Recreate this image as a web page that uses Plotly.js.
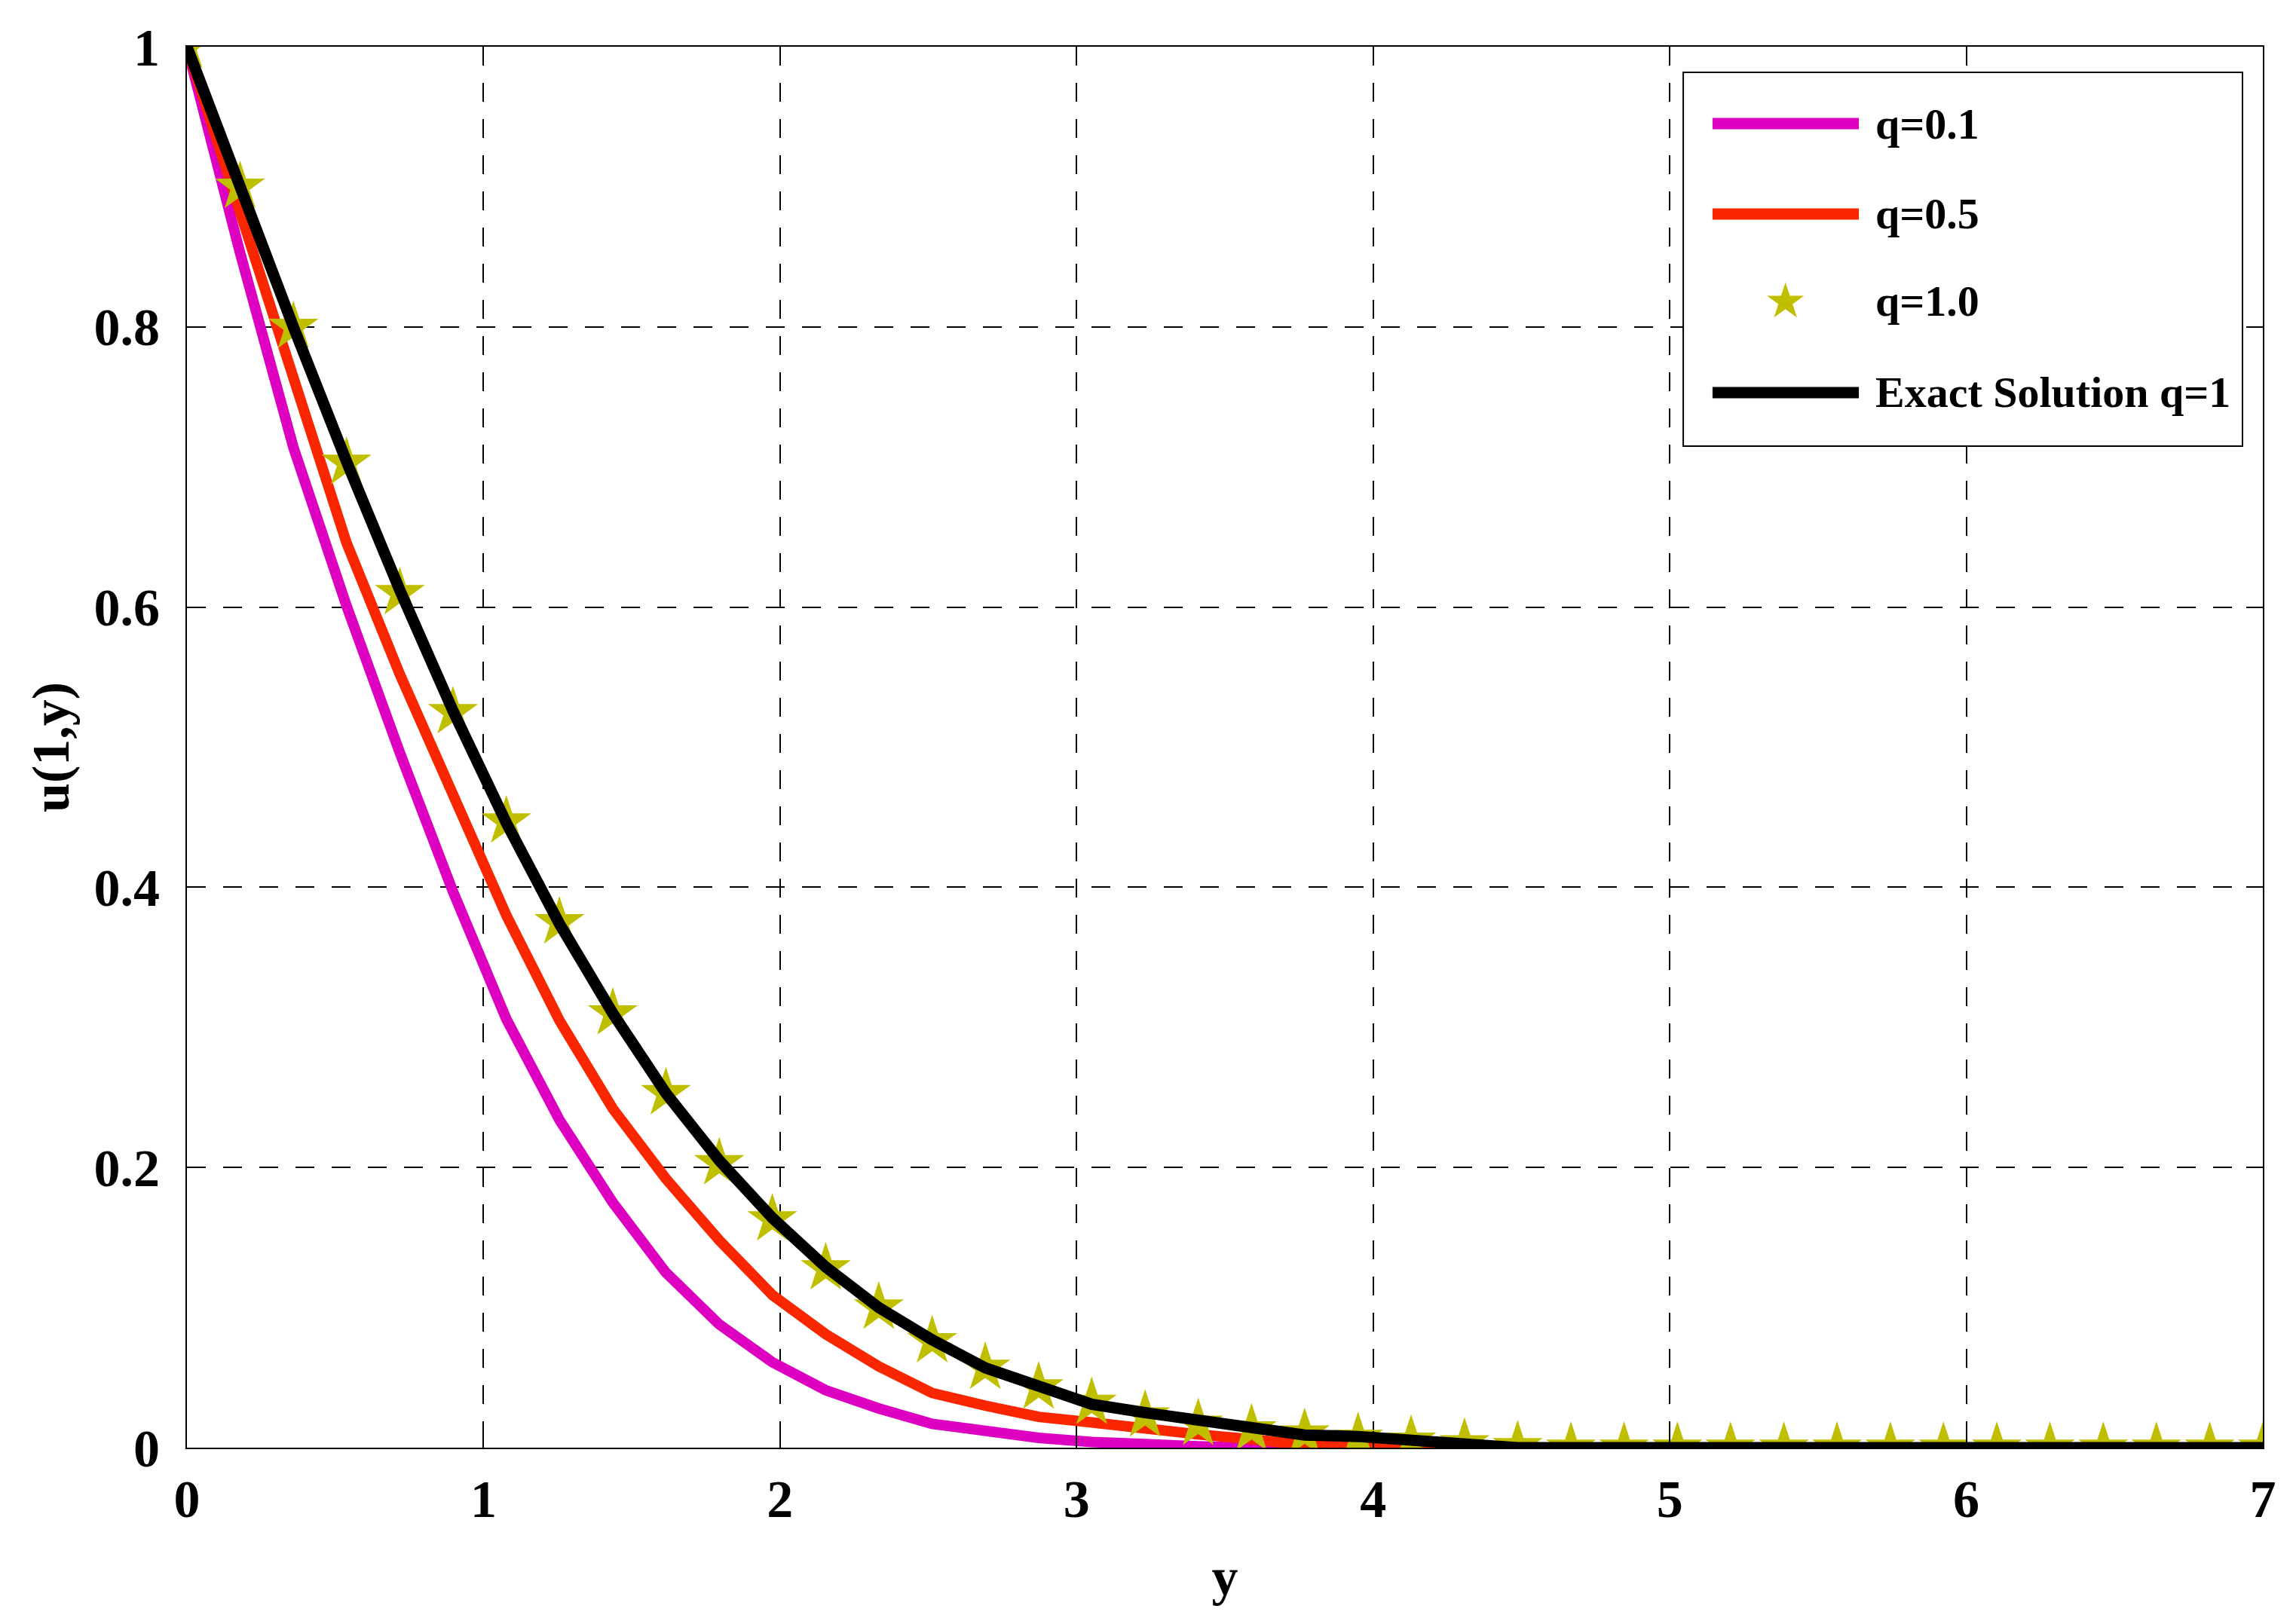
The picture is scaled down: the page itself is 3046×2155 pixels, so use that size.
<!DOCTYPE html>
<html>
<head>
<meta charset="utf-8">
<script src="https://cdn.plot.ly/plotly-3.0.1.min.js"></script>
<style>
  body { margin: 0; background: #fff; }
  #plot { width: 3046px; height: 2155px; }
</style>
</head>
<body>
<div id="plot"></div>
<script>
// sample positions (40 points on 0..7)
var yPos = [0, 0.179, 0.359, 0.538, 0.718, 0.897, 1.077, 1.256, 1.436, 1.615,
  1.795, 1.974, 2.154, 2.333, 2.513, 2.692, 2.872, 3.051, 3.231, 3.410,
  3.590, 3.769, 3.949, 4.128, 4.308, 4.487, 4.667, 4.846, 5.026, 5.205,
  5.385, 5.564, 5.744, 5.923, 6.103, 6.282, 6.462, 6.641, 6.821, 7.0];

var u_q01 = [1, 0.853, 0.714, 0.601, 0.496, 0.397, 0.306, 0.234, 0.175, 0.125,
  0.088, 0.061, 0.041, 0.028, 0.017, 0.012, 0.007, 0.004, 0.002, 0.001,
  0, 0, 0, 0, 0, 0, 0, 0, 0, 0,
  0, 0, 0, 0, 0, 0, 0, 0, 0, 0];

var u_q05 = [1, 0.884, 0.767, 0.646, 0.552, 0.464, 0.380, 0.305, 0.242, 0.192,
  0.148, 0.109, 0.081, 0.058, 0.039, 0.030, 0.022, 0.018, 0.013, 0.0095,
  0.006, 0.002, 0.001, 0, 0, 0, 0, 0, 0, 0,
  0, 0, 0, 0, 0, 0, 0, 0, 0, 0];

var u_q10 = [1, 0.900, 0.800, 0.703, 0.610, 0.525, 0.447, 0.375, 0.310, 0.253,
  0.203, 0.163, 0.128, 0.100, 0.076, 0.057, 0.043, 0.032, 0.023, 0.017,
  0.013, 0.010, 0.007, 0.005, 0.003, 0.001, 0, 0, 0, 0,
  0, 0, 0, 0, 0, 0, 0, 0, 0, 0];

var u_exact = [1, 0.899, 0.800, 0.704, 0.612, 0.526, 0.446, 0.374, 0.310, 0.253,
  0.205, 0.164, 0.129, 0.100, 0.077, 0.057, 0.043, 0.031, 0.025, 0.019,
  0.014, 0.009, 0.008, 0.005, 0.001, 0, 0, 0, 0, 0,
  0, 0, 0, 0, 0, 0, 0, 0, 0, 0];

var names = ['q=0.1', 'q=0.5', 'q=1.0', 'Exact Solution q=1'];
var colors = ['#DD00C0', '#FA2600', '#BFBF00', '#000000'];

var family = 'Liberation Serif, Times New Roman, serif';
var font = {family: family, size: 70, color: '#000', weight: 'bold'};

var q01 = {name: names[0], x: yPos, y: u_q01, type: 'scatter', mode: 'lines',
  line: {color: colors[0], width: 14}};
var q05 = {name: names[1], x: yPos, y: u_q05, type: 'scatter', mode: 'lines',
  line: {color: colors[1], width: 14}};
var q10 = {name: names[2], x: yPos, y: u_q10, type: 'scatter', mode: 'markers',
  marker: {symbol: 'star', size: 50, color: colors[2], line: {width: 0}}};
var exact = {name: names[3], x: yPos, y: u_exact, type: 'scatter', mode: 'lines',
  line: {color: colors[3], width: 15}};

var data = [q01, q05, q10, exact];

// hand-drawn legend box (long line samples like the original)
var rowY = [0.9451, 0.8806, 0.8187, 0.7531];
var shapes = [{type: 'rect', xref: 'paper', yref: 'paper', layer: 'above',
  x0: 0.7208, x1: 0.9902, y0: 0.7149, y1: 0.9817,
  fillcolor: '#fff', line: {color: '#000', width: 2}}];
var annotations = [];
for (var i = 0; i < names.length; i++) {
  if (i != 2) {
    shapes.push({type: 'line', xref: 'paper', yref: 'paper', layer: 'above',
      x0: 0.7349, x1: 0.8054, y0: rowY[i], y1: rowY[i],
      line: {color: colors[i], width: 15}});
  } else {
    annotations.push({xref: 'paper', yref: 'paper', x: 0.7700, y: rowY[i],
      text: '\u2605', showarrow: false, xanchor: 'center', yanchor: 'middle',
      font: {family: 'DejaVu Sans', size: 64, color: colors[i]}});
  }
  annotations.push({xref: 'paper', yref: 'paper', x: 0.8126, y: rowY[i],
    text: names[i], showarrow: false, xanchor: 'left', yanchor: 'middle',
    font: {family: family, size: 58, color: '#000', weight: 'bold'}});
}

var axisCommon = {
  showline: true, mirror: 'ticks', linecolor: '#000', linewidth: 2,
  ticks: 'inside', ticklen: 22, tickwidth: 2, tickcolor: '#000',
  showgrid: true, gridcolor: '#000', gridwidth: 2, griddash: '25px,23px',
  zeroline: false, tickfont: font
};

var layout = {
  width: 3046, height: 2155,
  margin: {l: 248, r: 44, t: 62, b: 234},
  paper_bgcolor: '#fff', plot_bgcolor: '#fff',
  showlegend: false,
  font: font,
  xaxis: Object.assign({}, axisCommon, {
    range: [0, 7], dtick: 1, tick0: 0, ticklabelstandoff: 6,
    title: {text: 'y', font: font, standoff: 40}
  }),
  yaxis: Object.assign({}, axisCommon, {
    range: [0, 1], dtick: 0.2, tick0: 0, ticklabelstandoff: 20,
    title: {text: 'u(1,y)', font: font, standoff: 10}
  }),
  shapes: shapes,
  annotations: annotations
};

Plotly.newPlot('plot', data, layout, {staticPlot: true});
</script>
</body>
</html>
